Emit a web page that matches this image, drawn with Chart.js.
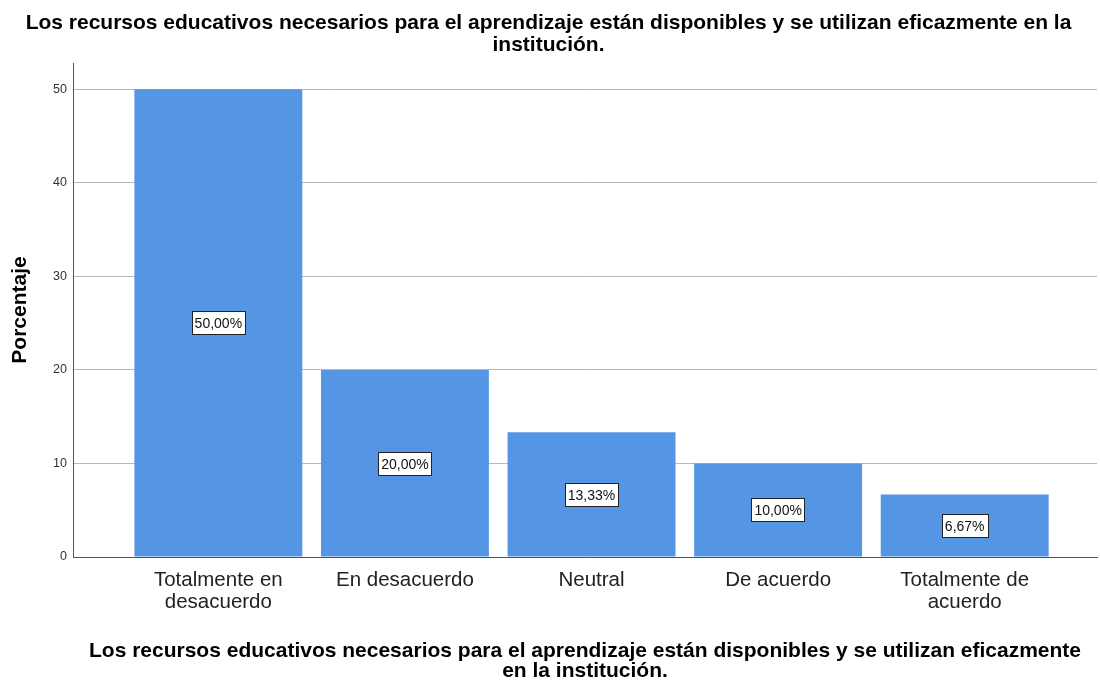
<!DOCTYPE html>
<html>
<head>
<meta charset="utf-8">
<script src="https://cdn.jsdelivr.net/npm/chart.js@4.4.0/dist/chart.umd.min.js"></script>
<style>
html,body{margin:0;padding:0;background:#fff;}
#wrap{width:1100px;height:681px;}
</style>
</head>
<body>
<div id="wrap"><canvas id="c" width="1100" height="681"></canvas></div>
<script>
const titleLines = ["Los recursos educativos necesarios para el aprendizaje están disponibles y se utilizan eficazmente en la", "institución."];
const xTitleLines = ["Los recursos educativos necesarios para el aprendizaje están disponibles y se utilizan eficazmente", "en la institución."];
const yTitle = "Porcentaje";
const categories = [["Totalmente en","desacuerdo"], ["En desacuerdo"], ["Neutral"], ["De acuerdo"], ["Totalmente de","acuerdo"]];
const values = [50.00, 20.00, 13.33, 10.00, 6.67];
const valueLabels = ["50,00%", "20,00%", "13,33%", "10,00%", "6,67%"];
const yTicks = [0, 10, 20, 30, 40, 50];

const FONT = "'Liberation Sans', Arial, sans-serif";

const labelPlugin = {
  id: 'boxLabels',
  afterDatasetsDraw(chart) {
    const ctx = chart.ctx;
    const meta = chart.getDatasetMeta(0);
    ctx.save();
    ctx.font = "14px " + FONT;
    ctx.textAlign = 'center';
    ctx.textBaseline = 'middle';
    meta.data.forEach((el, i) => {
      const cx = el.x;
      const cy = (el.y + el.base) / 2;
      const t = valueLabels[i];
      const w = ctx.measureText(t).width + 6;
      const h = 23;
      const bx = Math.round(cx - w/2) + 0.5, by = Math.round(cy - h/2) + 0.5;
      ctx.fillStyle = '#ffffff';
      ctx.fillRect(bx, by, Math.round(w), h);
      ctx.strokeStyle = '#222';
      ctx.lineWidth = 1;
      ctx.strokeRect(bx, by, Math.round(w), h);
      ctx.fillStyle = '#111';
      ctx.fillText(t, cx, cy + 1.5);
    });
    ctx.restore();
  }
};

const data = values.map((v, i) => ({x: i, y: v}));

new Chart(document.getElementById('c'), {
  type: 'bar',
  data: {
    datasets: [{
      data: data,
      backgroundColor: '#5596e4',
      borderWidth: 0,
      barPercentage: 0.9,
      categoryPercentage: 1.0
    }]
  },
  options: {
    responsive: false,
    animation: false,
    layout: {padding: {left: 0, right: 3, top: 0, bottom: 0}},
    plugins: {
      legend: {display: false},
      tooltip: {enabled: false},
      title: {
        display: true,
        text: titleLines,
        color: '#000',
        font: {family: FONT, size: 21, weight: 'bold', lineHeight: 1.05},
        padding: {top: 12, bottom: 6.9}
      }
    },
    scales: {
      x: {
        type: 'linear',
        min: -0.779,
        max: 4.709,
        offset: false,
        afterBuildTicks(scale) { scale.ticks = [0,1,2,3,4].map(v => ({value: v})); },
        afterFit(scale) { scale.height = 124; },
        grid: {display: false, drawTicks: false},
        border: {display: true, color: '#555', width: 1},
        ticks: {
          autoSkip: false,
          maxRotation: 0,
          padding: 12,
          color: '#222',
          font: {family: FONT, size: 20.5, lineHeight: 1.08},
          callback: (v) => categories[v] || ''
        },
        title: {
          display: true,
          text: xTitleLines,
          color: '#000',
          font: {family: FONT, size: 21, weight: 'bold', lineHeight: 0.96},
          padding: {top: 14, bottom: 0}
        }
      },
      y: {
        min: 0,
        max: 52.8,
        afterBuildTicks(scale) { scale.ticks = yTicks.map(v => ({value: v})); },
        afterFit(scale) { scale.width = 73; },
        grid: {color: '#b8b8b8', drawTicks: false, lineWidth: 1},
        border: {display: true, color: '#555', width: 1},
        ticks: {
          padding: 6,
          color: '#333',
          font: {family: FONT, size: 12.5}
        },
        title: {
          display: true,
          text: yTitle,
          color: '#000',
          font: {family: FONT, size: 21, weight: 'bold'},
          padding: {top: 8, bottom: 8}
        }
      }
    }
  },
  plugins: [labelPlugin]
});
</script>
</body>
</html>
